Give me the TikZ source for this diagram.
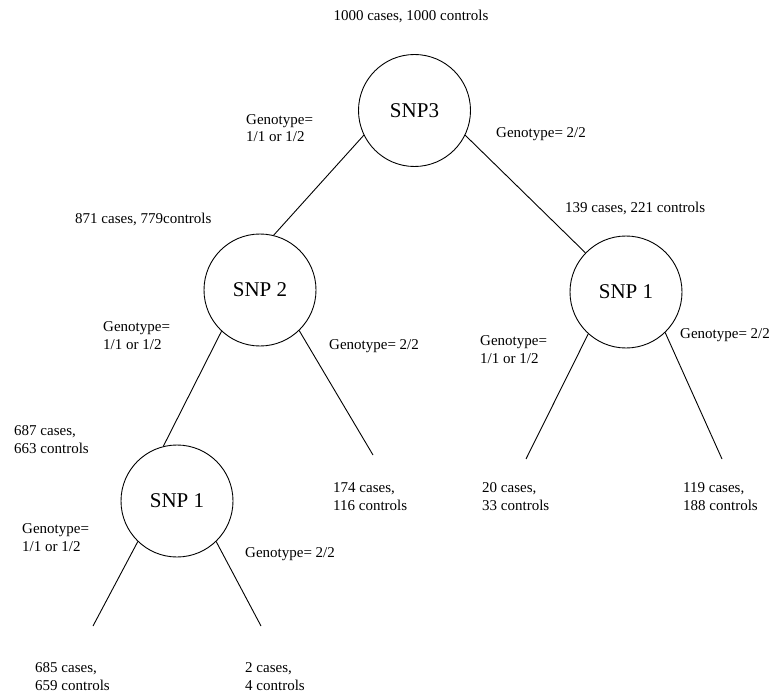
\documentclass[tikz,border=0pt]{standalone}
\usepackage{fontspec}
\setmainfont{Liberation Serif}
\begin{document}
\begin{tikzpicture}[x=1pt,y=-1pt,
  snpnode/.style={circle,draw,line width=0.9pt,minimum size=112pt,inner sep=0pt,font=\fontsize{21}{24}\selectfont},
  lbl/.style={inner sep=0pt,anchor=base west,align=left,font=\fontsize{15}{17.5}\selectfont},
  edge/.style={line width=0.9pt}]
\useasboundingbox (0,0) rectangle (777,698);
% circles
\node[snpnode] (snp3) at (414.5,110.5) {SNP3};
\node[snpnode] (snp2) at (260,290) {SNP 2};
\node[snpnode] (snp1r) at (626,292) {SNP 1};
\node[snpnode] (snp1b) at (177,501) {SNP 1};
% free ends
\coordinate (e174) at (373,455);
\coordinate (e20) at (526,459);
\coordinate (e119) at (722,459);
\coordinate (e685) at (93,626);
\coordinate (e2) at (261,626);
% connectors
\draw[edge] (snp3.206) -- (snp2.76);
\draw[edge] (snp3.334) -- (snp1r.136);
\draw[edge] (snp2.227) -- (snp1b.104);
\draw[edge] (snp2.314) -- (e174);
\draw[edge] (snp1r.228) -- (e20);
\draw[edge] (snp1r.314) -- (e119);
\draw[edge] (snp1b.226) -- (e685);
\draw[edge] (snp1b.314) -- (e2);
% labels (multi-line nodes are placed by the baseline of their last line)
\node[lbl,anchor=base] (t0) at (411,21) {1000 cases, 1000 controls};
\node[lbl] (g1) at (246,142) {Genotype=\\1/1 or 1/2};
\node[lbl] (g2) at (496,138) {Genotype= 2/2};
\node[lbl] (c871) at (75,223) {871 cases, 779controls};
\node[lbl] (c139) at (565,212) {139 cases, 221 controls};
\node[lbl] (g3) at (103,349) {Genotype=\\1/1 or 1/2};
\node[lbl] (g4) at (329,349) {Genotype= 2/2};
\node[lbl] (g5) at (480,363) {Genotype=\\1/1 or 1/2};
\node[lbl] (g6) at (680,338) {Genotype= 2/2};
\node[lbl] (c687) at (14,453) {687 cases,\\663 controls};
\node[lbl] (c174) at (333,510) {174 cases,\\116 controls};
\node[lbl] (c20) at (482,510) {20 cases,\\33 controls};
\node[lbl] (c119) at (683,510) {119 cases,\\188 controls};
\node[lbl] (g7) at (22,551) {Genotype=\\1/1 or 1/2};
\node[lbl] (g8) at (245,557) {Genotype= 2/2};
\node[lbl] (c685) at (35,690) {685 cases,\\659 controls};
\node[lbl] (c2) at (245,690) {2 cases,\\4 controls};
\end{tikzpicture}
\end{document}
